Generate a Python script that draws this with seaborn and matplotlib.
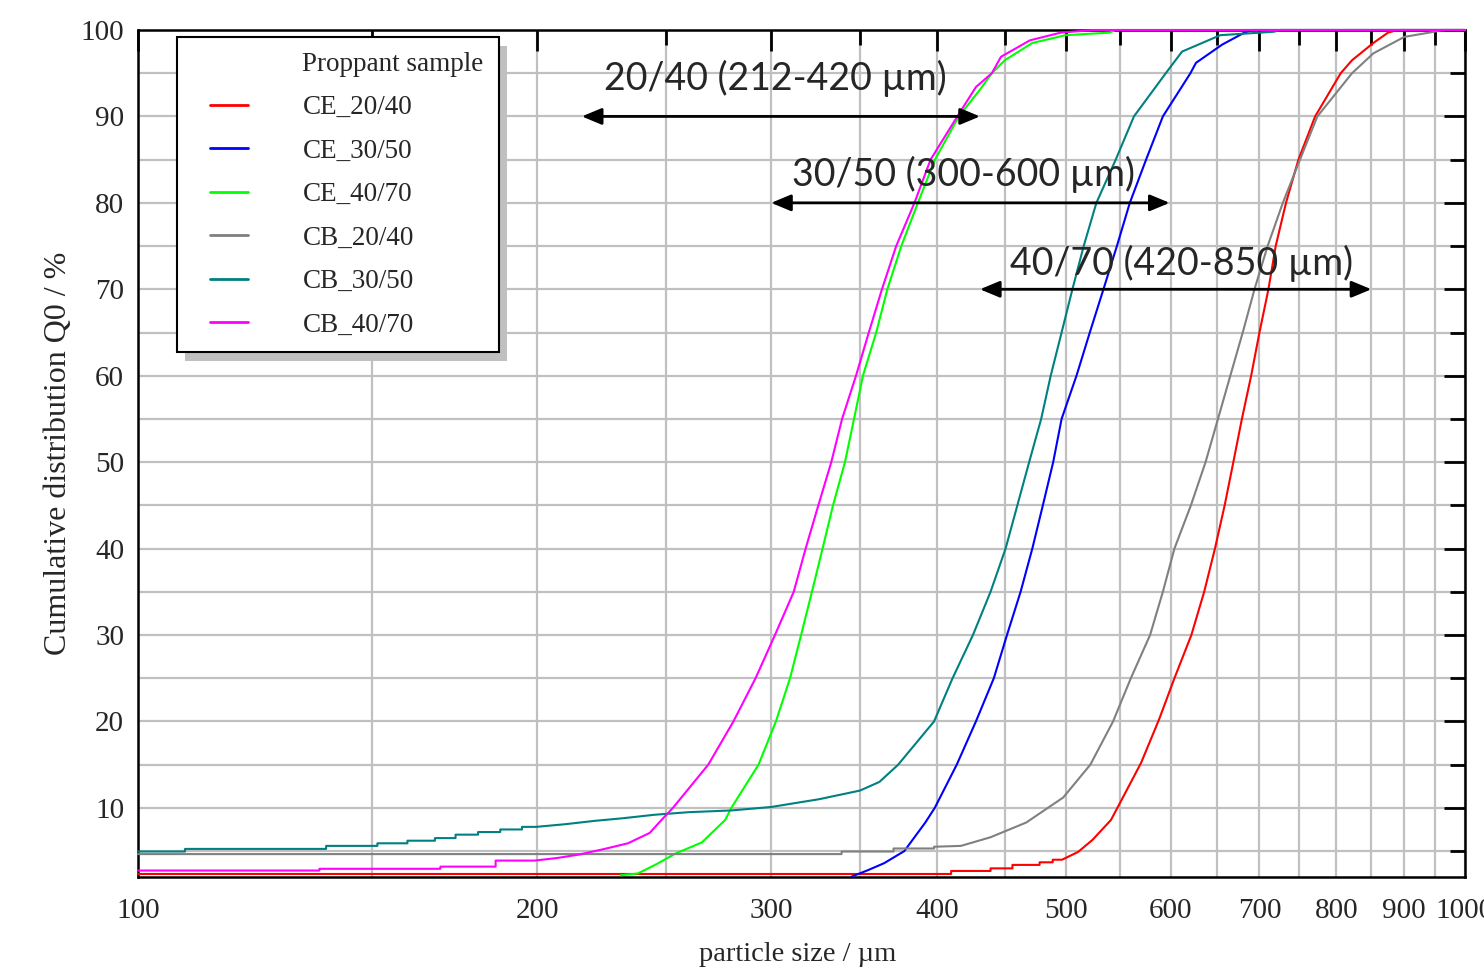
"""Cumulative particle size distribution (Q0) of the CE / CB proppant samples."""
import matplotlib
matplotlib.use("Agg")
import matplotlib.pyplot as plt
import pandas as pd
import seaborn as sns
from matplotlib import ticker
from matplotlib.legend_handler import HandlerLine2D
from matplotlib.lines import Line2D
from matplotlib.patches import Rectangle
from matplotlib.transforms import IdentityTransform

SAMPLES = ["CE_20/40", "CE_30/50", "CE_40/70", "CB_20/40", "CB_30/50", "CB_40/70"]
COLORS = ["#ff0000", "#0000ff", "#00ff00", "#808080", "#008080", "#ff00ff"]

# values (particle size in um, Q0 in %)
ce_2040_size = [100, 410, 410, 439, 439, 456, 456, 478, 478, 489, 489, 497, 511, 524, 541, 551,
                570, 588, 604, 622, 636, 648, 659, 669, 679, 690, 700, 711, 720, 733, 749, 771,
                806, 822, 853, 875, 890, 1000]
ce_2040_q0 = [2.35, 2.35, 2.7, 2.7, 3.0, 3.0, 3.4, 3.4, 3.7, 3.7, 4.0, 4.0, 4.9, 6.3, 8.6, 10.9,
              15.2, 20.2, 25.0, 30, 35, 40, 45, 50, 55, 60, 65, 70, 75, 80, 85, 90,
              95, 96.5, 98.5, 99.7, 100, 100]

ce_3050_size = [345, 355, 365, 378, 392, 398.5, 414, 428, 441.5, 451.7, 462.5, 472, 480.7, 489.4,
                496.6, 509.6, 521.5, 534, 546.6, 559, 575, 592, 621, 627, 656, 682, 692, 1000]
ce_3050_q0 = [2.05, 2.8, 3.6, 5, 8.3, 10, 15, 20, 25, 30, 35, 40, 45, 50,
              55, 60, 65, 70, 75, 80, 85, 90, 95, 96.2, 98.3, 99.7, 100, 100]

ce_4070_size = [231, 238, 246, 254, 266, 277, 280, 293.5, 302.5, 310, 316, 322, 328, 334, 341,
                346.4, 351.8, 360, 367, 376, 387, 398.6, 415.5, 431, 440, 450, 472, 500, 540,
                545, 1000]
ce_4070_q0 = [2.2, 2.4, 3.5, 4.7, 6.0, 8.6, 10, 15, 20, 25, 30, 35, 40, 45, 50,
              55, 60, 65, 70, 75, 80, 85, 90, 93.1, 95, 96.5, 98.5, 99.4, 99.7,
              100, 100]

cb_2040_size = [100, 339, 339, 371, 371, 398, 398, 417, 439, 467, 498, 522, 543, 560, 579, 592,
                604, 621.5, 637.5, 651.4, 665.5, 680, 694, 710, 729, 751, 774, 822, 853, 900,
                948, 960, 1000]
cb_2040_q0 = [4.65, 4.65, 4.95, 4.95, 5.3, 5.3, 5.5, 5.6, 6.6, 8.3, 11.2, 15, 20, 25, 30, 35,
              40, 45, 50, 55, 60, 65, 70, 75, 80, 85, 90, 95, 97.3, 99.2,
              99.8, 100, 100]

cb_3050_size = [100, 108.5, 108.5, 138.6, 138.6, 151.5, 151.5, 159.6, 159.6, 167.4, 167.4, 173.5,
                173.5, 180.4, 180.4, 187.5, 187.5, 194.7, 194.7, 199.5, 209.6, 221, 232, 245,
                260, 280, 300, 326, 350, 362, 374, 398, 411, 425.8, 439, 450.6, 459.9, 469.4,
                479.3, 487.3, 496.6, 506, 516, 527.5, 545.5, 563, 595, 612, 654, 718, 725, 1000]
cb_3050_q0 = [4.95, 4.95, 5.25, 5.25, 5.6, 5.6, 5.9, 5.9, 6.2, 6.2, 6.5, 6.5,
              6.9, 6.9, 7.2, 7.2, 7.5, 7.5, 7.8, 7.8, 8.1, 8.5, 8.8, 9.2,
              9.5, 9.7, 10.1, 11.0, 12.0, 13.0, 15, 20, 25, 30, 35, 40, 45, 50,
              55, 60, 65, 70, 75, 80, 85, 90, 95, 97.5, 99.4, 99.8, 100, 100]

cb_4070_size = [100, 137, 137, 169, 169, 186, 186, 199, 207, 215, 224, 234, 243, 247, 253, 269,
                281, 292, 302, 312, 318.5, 325.6, 333, 339.3, 347.6, 355.4, 363.6, 372.7, 384.7,
                395.6, 414.4, 428, 440, 447, 470, 496, 525, 1000]
cb_4070_q0 = [2.75, 2.75, 2.95, 2.95, 3.2, 3.2, 3.9, 3.9, 4.2, 4.6, 5.2, 5.9, 7.1, 8.3, 10, 15,
              20, 25, 30, 35, 40, 45, 50, 55, 60, 65, 70, 75, 80,
              85, 90, 93.4, 95, 96.9, 98.8, 99.7, 100, 100]

# sieve ranges drawn as double arrows: label, from, to, arrow level, text x, text baseline
RANGE_LABELS = ["20/40 (212-420 µm)", "30/50 (300-600 µm)", "40/70 (420-850 µm)"]
RANGE_FROM = [216, 300, 431]
RANGE_TO = [431, 599, 850]
RANGE_LEVEL = [90, 80, 70]
RANGE_TEXT_X = [302, 419, 612]
RANGE_TEXT_Y = [93.1, 81.9, 71.7]

SERIF = "Liberation Serif"


def build_frame() -> pd.DataFrame:
    sizes = [ce_2040_size, ce_3050_size, ce_4070_size, cb_2040_size, cb_3050_size, cb_4070_size]
    q0s = [ce_2040_q0, ce_3050_q0, ce_4070_q0, cb_2040_q0, cb_3050_q0, cb_4070_q0]
    parts = []
    for name, xs, ys in zip(SAMPLES, sizes, q0s):
        parts.append(pd.DataFrame({"size": xs, "q0": ys, "sample": name}))
    return pd.concat(parts, ignore_index=True)


def main() -> None:
    sns.set_style("white")
    plt.rcParams["font.family"] = [SERIF, "DejaVu Serif"]

    df = build_frame()
    fig = plt.figure(figsize=(14.84, 9.69), dpi=100)
    ax = fig.add_axes([138 / 1484, 92 / 969, 1327 / 1484, 847 / 969])

    sns.lineplot(data=df, x="size", y="q0", hue="sample", hue_order=SAMPLES,
                 palette=dict(zip(SAMPLES, COLORS)), sort=False, estimator=None,
                 linewidth=1.5, legend=False, ax=ax)
    for line in ax.lines:
        line.set_zorder(3)
        line.set_clip_on(False)

    ax.set_xscale("log")
    ax.set_xlim(100, 1000)
    ax.set_ylim(2, 100)
    ax.xaxis.set_major_locator(ticker.FixedLocator(range(100, 1001, 100)))
    ax.xaxis.set_minor_locator(ticker.FixedLocator(range(150, 1000, 100)))
    ax.xaxis.set_major_formatter(ticker.FuncFormatter(lambda v, p: f"{v:g}"))
    ax.xaxis.set_minor_formatter(ticker.NullFormatter())
    ax.yaxis.set_major_locator(ticker.FixedLocator(range(10, 101, 10)))
    ax.yaxis.set_minor_locator(ticker.FixedLocator(range(5, 100, 10)))

    ax.grid(which="both", color="#c0c0c0", linewidth=1.6)
    ax.set_axisbelow(True)
    for sp in ax.spines.values():
        sp.set_color("black")
        sp.set_linewidth(1.8)

    ax.tick_params(which="both", direction="in", top=True, right=True, color="black", width=2)
    ax.tick_params(which="major", length=15)
    ax.tick_params(which="minor", length=11)
    ax.tick_params(axis="x", which="major", labelsize=21, pad=15)
    ax.tick_params(axis="y", which="major", labelsize=21, pad=10)

    ax.set_xlabel("particle size / µm", fontsize=20.5)
    ax.set_ylabel("Cumulative distribution Q0 / %", fontsize=23)
    ax.xaxis.set_label_coords(0.497, -0.077)
    ax.yaxis.set_label_coords(-0.049, 0.5)

    # sieve-range arrows
    for label, x0, x1, lvl, tx, ty in zip(RANGE_LABELS, RANGE_FROM, RANGE_TO, RANGE_LEVEL,
                                          RANGE_TEXT_X, RANGE_TEXT_Y):
        ax.annotate("", xy=(x0, lvl), xytext=(x1, lvl),
                    arrowprops=dict(arrowstyle="<|-|>,head_length=0.6,head_width=0.25",
                                    color="black", lw=2, mutation_scale=20,
                                    shrinkA=0, shrinkB=0), zorder=4)
        ax.text(tx, ty, label, ha="center", va="baseline", fontsize=27,
                family=["Lato", "DejaVu Sans"], zorder=4)

    handles = [Line2D([], [], color="none")]
    handles += [Line2D([], [], color=c, lw=2) for c in COLORS]
    labels = ["Proppant sample"] + SAMPLES
    leg = ax.legend(handles, labels, loc="upper left", bbox_to_anchor=(0.0294, 0.9917),
                    borderaxespad=0, fontsize=19.5, frameon=True, fancybox=False,
                    framealpha=1, edgecolor="black", borderpad=0.55, labelspacing=0.68,
                    handlelength=2.75, handletextpad=1.33,
                    handler_map={Line2D: HandlerLine2D(marker_pad=0.68, numpoints=2)})
    leg.get_frame().set_linewidth(1.5)
    leg.set_zorder(6)

    # drop shadow behind the legend box
    fig.canvas.draw()
    bb = leg.get_window_extent()
    shadow = Rectangle((bb.x0 + 8, bb.y0 - 9), bb.width, bb.height, transform=IdentityTransform(),
                       facecolor="#c0c0c0", edgecolor="none", zorder=5.5, clip_on=False)
    ax.add_artist(shadow)

    fig.savefig("out.png", dpi=100)
    plt.close(fig)


if __name__ == "__main__":
    main()
